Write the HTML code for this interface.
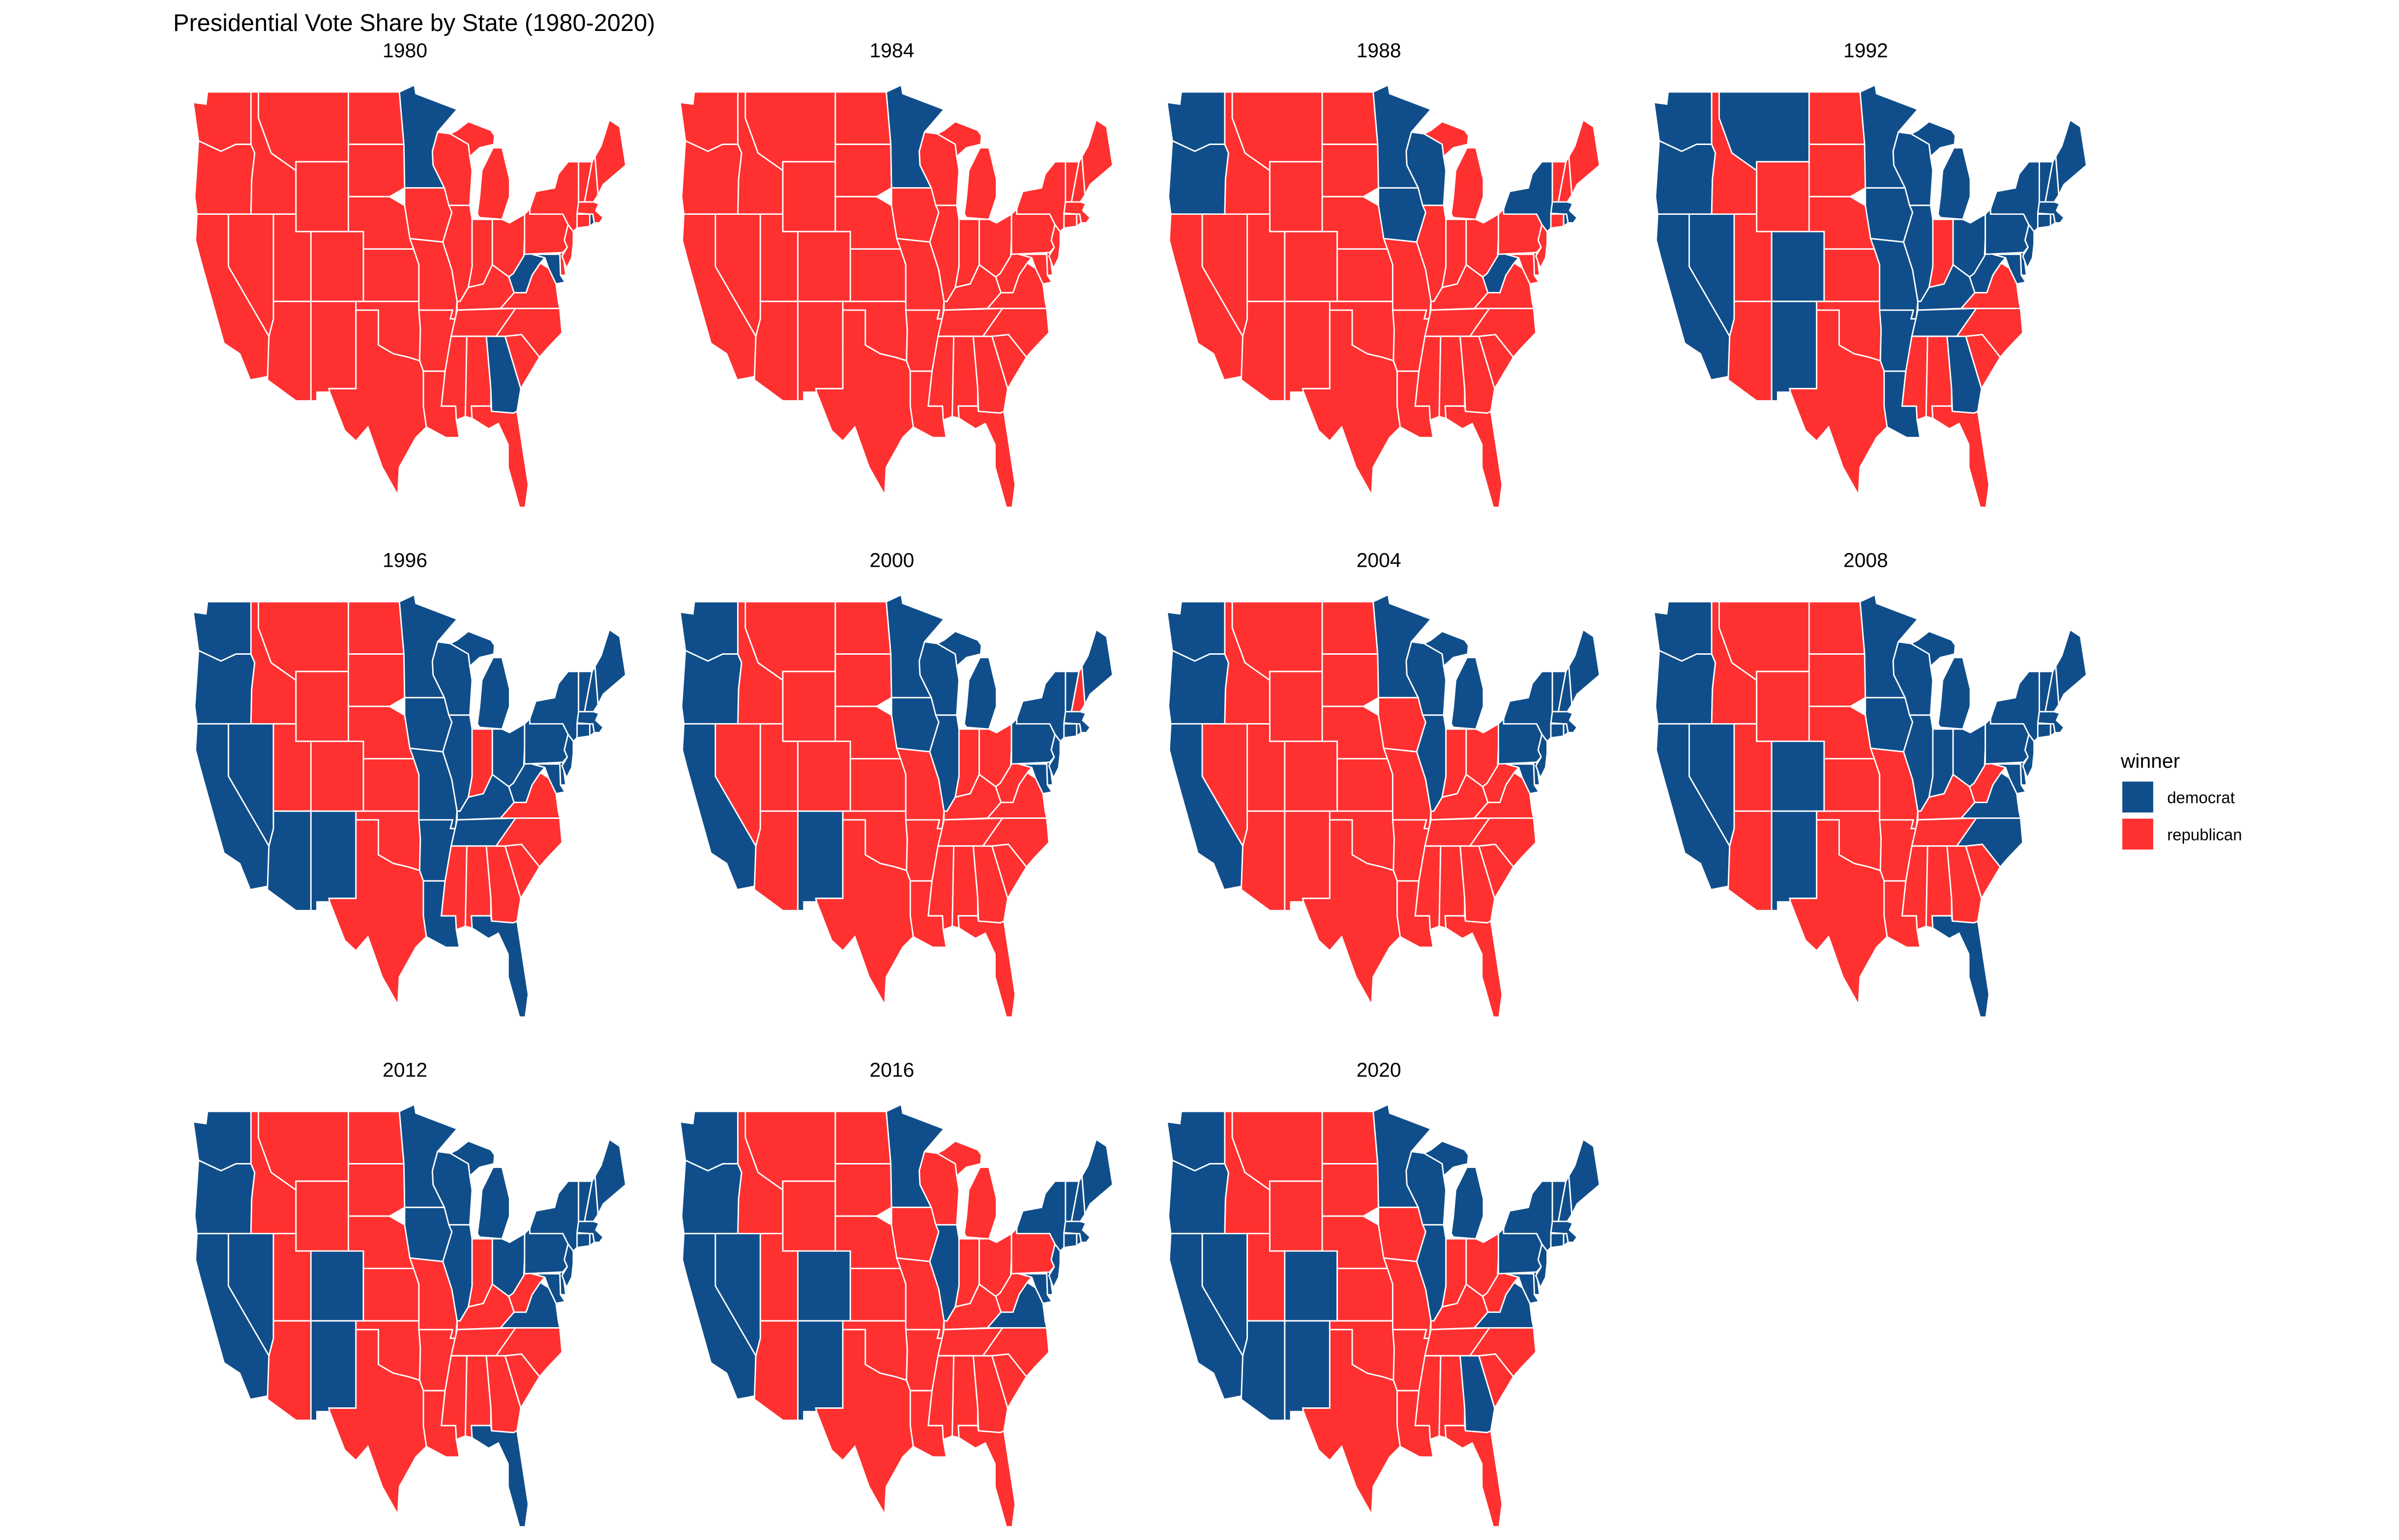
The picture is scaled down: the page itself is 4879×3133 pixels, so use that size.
<!DOCTYPE html>
<html><head><meta charset="utf-8"><style>
html,body{margin:0;padding:0;background:#fff;}
svg{display:block;font-family:"Liberation Sans",sans-serif;}
</style></head><body>
<svg id="chart" width="4879" height="3133" viewBox="0 0 1552 997" preserveAspectRatio="none" xmlns="http://www.w3.org/2000/svg">
<rect x="0" y="0" width="1552" height="997" fill="#fff"/>
<text x="112" y="20" font-size="15.5" fill="#000">Presidential Vote Share by State (1980-2020)</text>
<g id="panels"></g>
<g>
<text x="1372" y="497" font-size="13" fill="#000">winner</text>
<rect x="1373" y="506" width="20" height="20" fill="#104E8B"/>
<text x="1402" y="520" font-size="10.5" fill="#000">democrat</text>
<rect x="1373" y="530" width="20" height="20" fill="#FF3030"/>
<text x="1402" y="544" font-size="10.5" fill="#000">republican</text>
</g>
</svg>
<script>
const years = [1980,1984,1988,1992,1996,2000,2004,2008,2012,2016,2020];
const demStates1980 = ["GA","MN","MD","WV","RI"];
const demStates1984 = ["MN"];
const demStates1988 = ["WA","OR","IA","WI","MN","WV","NY","MA","RI"];
const repStates1992 = ["AZ","ID","UT","WY","ND","SD","NE","KS","OK","TX","IN","MS","AL","SC","NC","VA","FL"];
const repStates1996 = ["ID","UT","WY","MT","ND","SD","NE","KS","OK","TX","IN","MS","AL","GA","SC","NC","VA","CO"];
const demStates2000 = ["WA","OR","CA","NM","MN","WI","IA","IL","MI","PA","NY","NJ","MD","DE","CT","RI","MA","VT","ME"];
const demStates2004 = ["WA","OR","CA","MN","WI","IL","MI","PA","NY","NJ","MD","DE","CT","RI","MA","VT","NH","ME"];
const demStates2008 = ["WA","OR","CA","MN","WI","IL","MI","PA","NY","NJ","MD","DE","CT","RI","MA","VT","NH","ME","NV","CO","NM","IA","IN","OH","VA","NC","FL"];
const demStates2012 = ["WA","OR","CA","MN","WI","IL","MI","PA","NY","NJ","MD","DE","CT","RI","MA","VT","NH","ME","NV","CO","NM","IA","OH","VA","FL"];
const demStates2016 = ["WA","OR","CA","NV","CO","NM","MN","IL","VA","MD","DE","NJ","NY","CT","RI","MA","VT","NH","ME"];
const demStates2020 = ["WA","OR","CA","NV","CO","NM","MN","IL","VA","MD","DE","NJ","NY","CT","RI","MA","VT","NH","ME","AZ","GA","WI","MI","PA"];

const shapes = {
WA:[[-124.7,48.4],[-123,48.3],[-122.8,49],[-117,49],[-117,46],[-119,46],[-121,45.6],[-124,46.2]],
OR:[[-124,46.2],[-121,45.6],[-119,46],[-117,46],[-116.5,45.5],[-116.9,44],[-117,42],[-124.2,42],[-124.5,43]],
CA:[[-124.2,42],[-120,42],[-120,39],[-114.6,35],[-114.7,32.7],[-117.1,32.5],[-118.5,34],[-120.6,34.6],[-122.5,37.5],[-123.8,39.5],[-124.4,40.5]],
NV:[[-120,42],[-114,42],[-114,36],[-114.6,35],[-120,39]],
ID:[[-117,49],[-116,49],[-116,47.5],[-114.3,45.5],[-111,44.5],[-111,42],[-117,42],[-116.9,44],[-116.5,45.5],[-117,46]],
MT:[[-116,49],[-104,49],[-104,45],[-111,45],[-111,44.5],[-114.3,45.5],[-116,47.5]],
WY:[[-111,45],[-104,45],[-104,41],[-111,41]],
UT:[[-114,42],[-111,42],[-111,41],[-109,41],[-109,37],[-114,37]],
CO:[[-109,41],[-102,41],[-102,37],[-109,37]],
AZ:[[-114,37],[-109,37],[-109,31.3],[-111,31.3],[-114.8,32.5],[-114.6,35],[-114,36]],
NM:[[-109,37],[-103,37],[-103,32],[-106.6,32],[-106.5,31.8],[-108.2,31.8],[-108.2,31.3],[-109,31.3]],
ND:[[-104,49],[-97.2,49],[-96.6,46],[-104,46]],
SD:[[-104,46],[-96.6,46],[-96.5,43.5],[-98.5,43],[-104,43]],
NE:[[-104,43],[-98.5,43],[-96.5,42.5],[-95.3,40],[-102,40],[-102,41],[-104,41]],
KS:[[-102,40],[-95.3,40],[-94.6,39.1],[-94.6,37],[-102,37]],
OK:[[-103,37],[-94.6,37],[-94.4,35.4],[-94.5,33.6],[-96,33.8],[-98,34],[-100,34.5],[-100,36.5],[-103,36.5]],
TX:[[-103,36.5],[-100,36.5],[-100,34.5],[-98,34],[-96,33.8],[-94.5,33.6],[-94,33],[-94,31],[-93.6,29.8],[-95,29.2],[-97.2,27.5],[-97.4,25.9],[-99.5,27.5],[-101.4,29.8],[-103,29],[-104.5,29.6],[-106.5,31.8],[-106.6,32],[-103,32]],
MN:[[-97.2,49],[-95.2,49.4],[-95,48.9],[-89.5,48],[-92.1,46.7],[-92.8,45.6],[-92.7,44.8],[-91.2,43.5],[-96.5,43.5],[-96.6,46]],
IA:[[-96.5,43.5],[-91.2,43.5],[-90.2,42.1],[-91.4,40.4],[-95.8,40.6],[-96.5,42.5]],
MO:[[-95.8,40.6],[-91.4,40.4],[-90.2,38.8],[-89.5,37],[-89.7,36],[-90.4,36],[-90.1,36.5],[-94.6,36.5],[-94.6,39.1],[-95.3,40]],
AR:[[-94.6,36.5],[-90.1,36.5],[-90.4,36],[-89.7,36],[-91.1,33],[-94,33],[-94.5,33.6],[-94.4,35.4]],
LA:[[-94,33],[-91.1,33],[-91.6,31],[-89.7,31],[-89.6,30.2],[-89.2,29.2],[-91,29.2],[-93.6,29.8],[-94,31]],
WI:[[-92.1,46.7],[-90.4,46.6],[-88,46],[-87.8,45.3],[-87.5,44.5],[-87.8,42.5],[-90.6,42.5],[-91.2,43.5],[-92.7,44.8],[-92.8,45.6]],
IL:[[-90.6,42.5],[-87.8,42.5],[-87.5,41.7],[-87.5,39],[-88,37.8],[-89.1,37],[-89.5,37],[-90.2,38.8],[-91.4,40.4],[-90.2,42.1]],
MI:[[-86.5,41.8],[-83.5,41.7],[-82.5,43],[-82.5,44],[-83.5,45.8],[-84.7,45.8],[-86.2,44.5],[-86.5,43],[-86.8,42]],
MIU:[[-90.4,46.6],[-88,46],[-87.8,45.3],[-86.5,45.8],[-84.6,46],[-84.5,46.5],[-85,46.8],[-88,47.3],[-89.5,46.8]],
IN:[[-87.5,41.7],[-84.8,41.7],[-84.8,39.1],[-86,38],[-88,37.8],[-87.5,39]],
OH:[[-84.8,41.7],[-83.5,41.7],[-82.5,41.5],[-80.5,42],[-80.5,40.6],[-80.6,39.6],[-82,38.6],[-82.6,38.4],[-84.8,39.1]],
KY:[[-89.5,37],[-89.1,37],[-88,37.8],[-86,38],[-84.8,39.1],[-82.6,38.4],[-81.9,37.5],[-83.7,36.6],[-89.5,36.5]],
TN:[[-90.3,35],[-89.5,36.5],[-81.7,36.6],[-82.5,35.6],[-84.3,35]],
MS:[[-91.1,33],[-90.3,35],[-88.2,35],[-88.4,30.4],[-89.6,30.2],[-89.7,31],[-91.6,31]],
AL:[[-88.2,35],[-85.6,35],[-85,32],[-85,31],[-87.6,31],[-87.5,30.3],[-88.4,30.4]],
GA:[[-85.6,35],[-83.1,35],[-81,32],[-81.5,30.7],[-82,30.6],[-84.9,30.7],[-85,32]],
FL:[[-87.6,31],[-85,31],[-84.9,30.7],[-82,30.6],[-81.5,30.7],[-80,26.5],[-80.4,25.2],[-81.2,25.2],[-82.7,27.5],[-82.7,28.8],[-84,30],[-85.3,29.7],[-87.5,30.3]],
SC:[[-83.1,35],[-80.9,35.1],[-78.5,33.8],[-81,32]],
NC:[[-84.3,35],[-81.7,36.6],[-75.8,36.6],[-75.5,35.2],[-77.5,34.3],[-78.5,33.8],[-80.9,35.1],[-83.1,35]],
VA:[[-83.7,36.6],[-81.9,37.5],[-80.3,37.5],[-79.5,38.5],[-78.4,39.2],[-77.3,38.9],[-76.3,38],[-76,37],[-75.8,36.6]],
WV:[[-82.6,38.4],[-82,38.6],[-80.6,39.6],[-80.5,40.6],[-79.5,39.7],[-77.8,39.5],[-78.4,39.2],[-79.5,38.5],[-80.3,37.5],[-81.9,37.5]],
MD:[[-79.5,39.7],[-75.8,39.7],[-75.7,38.5],[-75.1,38.1],[-76.3,38],[-77.3,38.9],[-77.8,39.5]],
DE:[[-75.8,39.8],[-75.4,39.8],[-75,38.5],[-75.7,38.5]],
PA:[[-80.5,42],[-79.8,42.3],[-79.8,42],[-75.4,42],[-74.7,41.4],[-75.2,40.5],[-74.8,40.1],[-75.4,39.8],[-80.5,39.7]],
NJ:[[-74.7,41.4],[-74,41],[-74,40.3],[-74.2,39.5],[-74.9,38.9],[-75.5,39.6],[-74.8,40.1],[-75.2,40.5]],
NY:[[-79.8,42],[-79.8,42.3],[-79,43.3],[-76.5,43.5],[-76,44.3],[-74.7,45],[-73.3,45],[-73.3,42.7],[-73.5,41.2],[-74,41],[-74.7,41.4],[-75.4,42]],
CT:[[-73.5,41.2],[-73.5,42],[-71.8,42],[-71.8,41.3]],
RI:[[-71.8,42],[-71.4,42],[-71.2,41.5],[-71.8,41.3]],
MA:[[-73.5,42.05],[-73.3,42.7],[-71.3,42.7],[-70.6,42.6],[-71,42.2],[-70,41.8],[-70.5,41.5],[-71.2,41.5],[-71.4,42],[-71.8,42]],
VT:[[-73.3,45],[-71.5,45],[-72.5,42.7],[-73.3,42.7]],
NH:[[-71.5,45],[-71.1,45.3],[-70.7,43.1],[-71.3,42.7],[-72.5,42.7]],
ME:[[-71.1,45.3],[-70.7,43.1],[-70,43.7],[-67,44.8],[-67.8,47],[-69.2,47.4],[-70.3,45.9]]
};
const allStates = Object.keys(shapes).filter(s=>s!=="MIU");
function inv(list){return allStates.filter(s=>!list.includes(s));}
const demByYear = [demStates1980,demStates1984,demStates1988,inv(repStates1992),inv(repStates1996),demStates2000,demStates2004,demStates2008,demStates2012,demStates2016,demStates2020];

const NS="http://www.w3.org/2000/svg";
const panels=document.getElementById('panels');
years.forEach((yr,i)=>{
  const c=i%4, r=Math.floor(i/4);
  const x0=125+c*315, y0=55+r*330;
  const sx=lon=>x0+(lon+124.7)*4.85;
  const sy=lat=>y0+(49.4-lat)*11.3;
  const g=document.createElementNS(NS,'g');
  
  
  const t=document.createElementNS(NS,'text');
  
  
  t.setAttribute('x',x0+137);t.setAttribute('y',y0-18);
  t.setAttribute('font-size','13');t.setAttribute('text-anchor','middle');
  t.textContent=yr;g.appendChild(t);
  Object.keys(shapes).forEach(st=>{
    const key=st==="MIU"?"MI":st;
    const dem=demByYear[i].includes(key);
    const p=document.createElementNS(NS,'path');
    
    
    p.setAttribute('d','M'+shapes[st].map(q=>sx(q[0]).toFixed(2)+','+sy(q[1]).toFixed(2)).join('L')+'Z');
    p.setAttribute('fill',dem?'#104E8B':'#FF3030');
    p.setAttribute('stroke','#fff');p.setAttribute('stroke-width','0.9');
    g.appendChild(p);
  });
  panels.appendChild(g);
});
</script>
</body></html>
